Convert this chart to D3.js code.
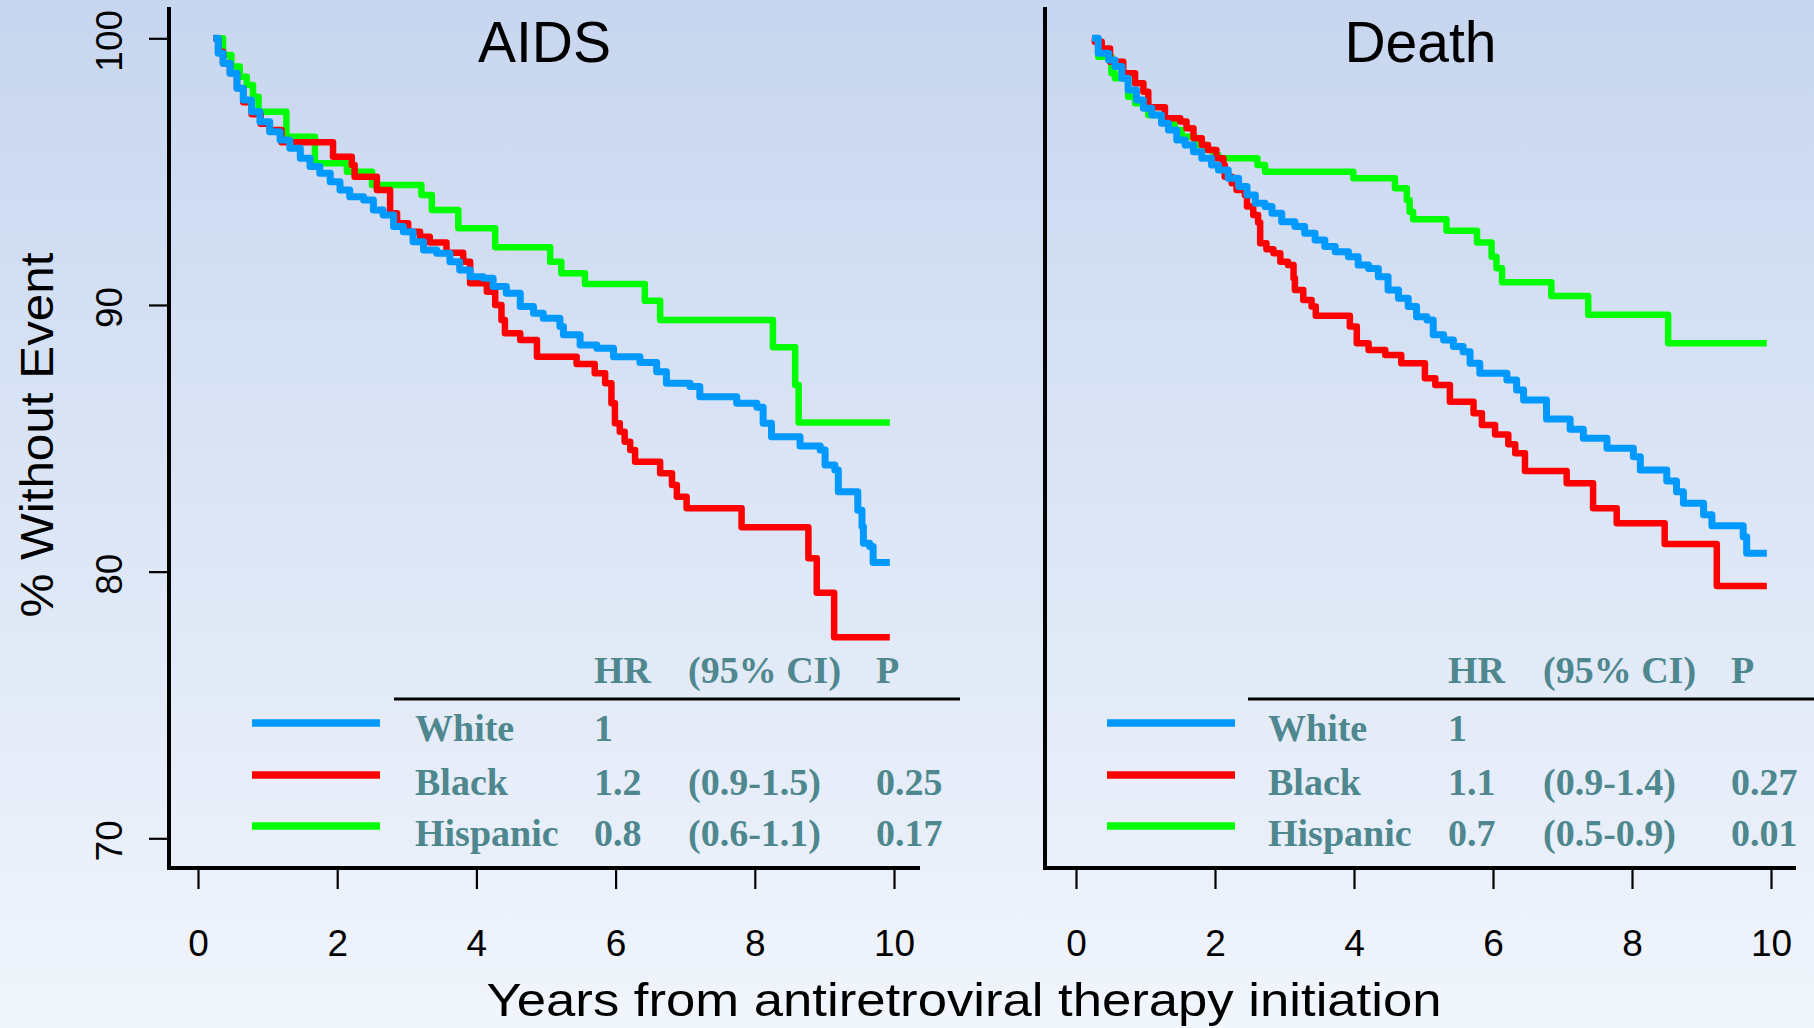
<!DOCTYPE html>
<html>
<head>
<meta charset="utf-8">
<script src="https://cdn.jsdelivr.net/npm/d3@7"></script>
<style>
  html, body { margin: 0; padding: 0; background: #ffffff; }
  svg { display: block; }
  .tick text { font-family: "Liberation Sans", Arial, sans-serif; fill: #000; }
  .leg { font-family: "Liberation Serif", "Times New Roman", serif; font-weight: bold; fill: #4e878e; }
</style>
</head>
<body>
<div id="chart"></div>
<script>
// axis ticks
const years = [0, 2, 4, 6, 8, 10];
const pctTicks = [70, 80, 90, 100];
const groups = ["White", "Black", "Hispanic"];

// Kaplan-Meier steps: [years, % without event]
const aidsWhite = [[0.22,100],[0.29,99.44],[0.36,99.06],[0.46,98.69],[0.56,98.13],[0.65,97.69],[0.77,97.25],[0.89,96.87],[1.03,96.5],[1.18,96.19],[1.32,95.88],[1.47,95.5],[1.61,95.19],[1.75,94.94],[1.9,94.62],[2.04,94.31],[2.18,94.06],[2.38,93.94],[2.52,93.56],[2.66,93.37],[2.81,92.94],[2.95,92.75],[3.09,92.37],[3.24,92.06],[3.43,91.94],[3.62,91.62],[3.76,91.31],[3.91,91.06],[4.1,91.0],[4.24,90.69],[4.43,90.44],[4.63,89.94],[4.82,89.69],[4.96,89.5],[5.2,89.19],[5.25,88.88],[5.49,88.5],[5.73,88.38],[5.97,88.06],[6.35,87.84],[6.59,87.5],[6.73,87.06],[7.07,86.94],[7.21,86.56],[7.74,86.31],[8.03,86.16],[8.12,85.56],[8.24,85.06],[8.65,84.71],[8.94,84.56],[9.01,84.0],[9.15,83.81],[9.2,83.0],[9.48,82.3],[9.54,81.69],[9.56,81.06],[9.65,80.94],[9.7,80.34],[9.94,80.34]];
const aidsBlack = [[0.22,100],[0.29,99.5],[0.36,99.06],[0.46,98.69],[0.56,98.13],[0.65,97.6],[0.77,97.15],[0.9,96.8],[1.03,96.56],[1.2,96.1],[1.94,95.56],[2.21,95.25],[2.25,94.81],[2.57,94.31],[2.76,93.44],[2.86,93.06],[3.02,92.75],[3.19,92.56],[3.33,92.34],[3.57,91.96],[3.81,91.62],[3.91,90.81],[4.15,90.5],[4.27,90.0],[4.36,89.44],[4.41,88.94],[4.63,88.69],[4.87,88.06],[5.44,87.79],[5.7,87.44],[5.85,87.06],[5.94,86.31],[5.99,85.56],[6.06,85.25],[6.13,84.87],[6.21,84.56],[6.28,84.12],[6.64,83.69],[6.81,83.25],[6.88,82.81],[7.02,82.38],[7.81,81.66],[8.77,80.5],[8.89,79.21],[9.14,77.54],[9.94,77.54]];
const aidsHispanic = [[0.26,100],[0.36,99.37],[0.48,98.94],[0.6,98.56],[0.7,98.25],[0.79,97.81],[0.87,97.25],[1.27,96.31],[1.68,95.31],[2.14,95.0],[2.5,94.5],[3.21,94.12],[3.36,93.56],[3.74,92.88],[4.27,92.16],[5.06,91.62],[5.22,91.19],[5.56,90.79],[6.42,90.16],[6.64,89.44],[8.26,88.41],[8.58,87.0],[8.63,85.59],[9.94,85.59]];

const deathWhite = [[0.23,100],[0.32,99.44],[0.47,99.19],[0.56,98.94],[0.66,98.5],[0.75,98.06],[0.87,97.69],[0.97,97.38],[1.09,97.12],[1.23,96.81],[1.33,96.56],[1.45,96.19],[1.57,96.0],[1.69,95.75],[1.81,95.5],[1.95,95.25],[2.05,95.06],[2.19,94.75],[2.34,94.44],[2.46,94.12],[2.58,93.81],[2.72,93.69],[2.82,93.44],[2.96,93.12],[3.15,92.94],[3.29,92.69],[3.44,92.44],[3.58,92.19],[3.73,92.0],[3.92,91.81],[4.06,91.5],[4.21,91.37],[4.35,91.06],[4.49,90.56],[4.64,90.25],[4.78,89.94],[4.9,89.56],[5.05,89.44],[5.14,88.88],[5.29,88.69],[5.43,88.44],[5.57,88.25],[5.67,87.81],[5.81,87.44],[6.2,87.19],[6.34,86.81],[6.44,86.44],[6.77,85.72],[7.11,85.34],[7.3,85.0],[7.64,84.63],[8.02,84.31],[8.12,83.81],[8.5,83.4],[8.64,83.0],[8.74,82.56],[9.03,82.13],[9.15,81.72],[9.6,81.31],[9.65,80.69],[9.94,80.69]];
const deathBlack = [[0.23,100],[0.27,99.87],[0.37,99.62],[0.49,99.12],[0.68,98.69],[0.85,98.31],[0.97,98.0],[1.04,97.41],[1.28,97.0],[1.5,96.88],[1.59,96.63],[1.69,96.25],[1.81,96.0],[1.9,95.81],[2.02,95.5],[2.12,95.25],[2.14,94.81],[2.24,94.56],[2.31,94.31],[2.43,94.12],[2.46,93.69],[2.55,93.37],[2.62,93.09],[2.65,92.31],[2.74,92.09],[2.84,91.94],[2.94,91.62],[3.05,91.5],[3.13,91.0],[3.15,90.56],[3.27,90.19],[3.39,89.94],[3.45,89.6],[3.94,89.19],[4.04,88.56],[4.21,88.31],[4.45,88.12],[4.68,87.81],[5.02,87.25],[5.17,87.0],[5.38,86.37],[5.72,85.94],[5.84,85.5],[6.03,85.14],[6.22,84.78],[6.32,84.44],[6.46,83.77],[7.06,83.31],[7.44,82.38],[7.78,81.81],[8.47,81.04],[9.22,79.46],[9.94,79.46]];
const deathHispanic = [[0.23,100],[0.32,99.31],[0.51,98.69],[0.56,98.5],[0.75,97.81],[0.85,97.56],[1.04,97.12],[1.23,96.87],[1.42,96.56],[1.52,96.31],[1.71,96.0],[1.88,95.81],[1.98,95.62],[2.05,95.5],[2.61,95.25],[2.72,95.0],[3.99,94.75],[4.59,94.38],[4.76,93.94],[4.8,93.5],[4.85,93.21],[5.33,92.78],[5.77,92.34],[5.98,91.81],[6.05,91.38],[6.13,90.85],[6.84,90.34],[7.37,89.63],[8.52,88.56],[9.94,88.56]];

// hazard ratio table
const aidsHR = ["1", "1.2", "0.8"];
const aidsCI = ["", "(0.9-1.5)", "(0.6-1.1)"];
const aidsP = ["", "0.25", "0.17"];
const deathHR = ["1", "1.1", "0.7"];
const deathCI = ["", "(0.9-1.4)", "(0.5-0.9)"];
const deathP = ["", "0.27", "0.01"];

const colors = { White: "#0099ff", Black: "#ff0000", Hispanic: "#00ff00" };

const W = 1814, H = 1028;
const svg = d3.select("#chart").append("svg")
  .attr("width", W).attr("height", H);

// background gradient
const grad = svg.append("defs").append("linearGradient")
  .attr("id", "bg").attr("x1", 0).attr("y1", 0).attr("x2", 0).attr("y2", 1);
grad.append("stop").attr("offset", "0%").attr("stop-color", "#c7d6ef");
grad.append("stop").attr("offset", "100%").attr("stop-color", "#f1f5fc");
svg.append("rect").attr("width", W).attr("height", H).attr("fill", "url(#bg)");

const y = d3.scaleLinear().domain([70, 100]).range([838.3, 38.3]);

const panels = [
  { title: "AIDS", axisX: 169, axisEnd: 920, x0: 198, x10: 894, showY: true,
    series: [aidsWhite, aidsBlack, aidsHispanic], hr: aidsHR, ci: aidsCI, p: aidsP,
    leg: { l1: 252, l2: 380, name: 415, hr: 594, ci: 688, p: 876, rule0: 394, rule1: 960 } },
  { title: "Death", axisX: 1045, axisEnd: 1796, x0: 1076, x10: 1771, showY: false,
    series: [deathWhite, deathBlack, deathHispanic], hr: deathHR, ci: deathCI, p: deathP,
    leg: { l1: 1107, l2: 1235, name: 1268, hr: 1448, ci: 1543, p: 1731, rule0: 1248, rule1: 1814 } }
];

const axisY = 868;

panels.forEach(pn => {
  const x = d3.scaleLinear().domain([0, 10]).range([pn.x0, pn.x10]);
  const g = svg.append("g");

  // x axis ticks
  const xa = g.append("g").attr("transform", `translate(0,${axisY})`)
    .call(d3.axisBottom(x).tickValues(years).tickSize(21).tickFormat(d3.format("d")));
  xa.select(".domain").remove();
  xa.selectAll(".tick line").attr("stroke", "#000").attr("stroke-width", 2.2);
  xa.selectAll(".tick text").attr("y", 88).attr("dy", 0).style("font-size", "37px");

  // y axis ticks (left panel only)
  if (pn.showY) {
    const ya = g.append("g").attr("transform", `translate(${pn.axisX},0)`)
      .call(d3.axisLeft(y).tickValues(pctTicks).tickSize(20));
    ya.select(".domain").remove();
    ya.selectAll(".tick line").attr("stroke", "#000").attr("stroke-width", 2.2);
    ya.selectAll(".tick text")
      .attr("transform", "rotate(-90)")
      .attr("x", -2).attr("y", -47).attr("dy", 0)
      .attr("text-anchor", "middle")
      .style("font-size", "37px");
  }

  // L-shaped frame
  g.append("path")
    .attr("d", `M${pn.axisX},7V${axisY}H${pn.axisEnd}`)
    .attr("fill", "none").attr("stroke", "#000").attr("stroke-width", 4);

  // title
  g.append("text")
    .attr("x", (pn.axisX + pn.axisEnd) / 2).attr("y", 62)
    .attr("text-anchor", "middle")
    .style("font-family", "'Liberation Sans', Arial, sans-serif")
    .style("font-size", "57px")
    .text(pn.title);

  // curves: hispanic, black, then white on top
  const line = d3.line().x(d => x(d[0])).y(d => y(d[1])).curve(d3.curveStepAfter);
  [2, 1, 0].forEach(i => {
    g.append("path")
      .datum(pn.series[i])
      .attr("d", line)
      .attr("fill", "none")
      .attr("stroke", colors[groups[i]])
      .attr("stroke-width", i === 0 ? 7 : 6.5)
      .attr("stroke-linejoin", "round");
  });

  // legend table
  const L = pn.leg;
  const rowBase = [741, 795, 846];
  const lineY = [723, 775, 826];
  g.append("line")
    .attr("x1", L.rule0).attr("x2", L.rule1).attr("y1", 699).attr("y2", 699)
    .attr("stroke", "#000").attr("stroke-width", 3);
  const head = [["HR", L.hr], ["(95% CI)", L.ci], ["P", L.p]];
  head.forEach(h => {
    g.append("text").attr("class", "leg").attr("x", h[1]).attr("y", 683)
      .style("font-size", "38px").text(h[0]);
  });
  groups.forEach((grp, i) => {
    g.append("line")
      .attr("x1", L.l1).attr("x2", L.l2).attr("y1", lineY[i]).attr("y2", lineY[i])
      .attr("stroke", colors[grp]).attr("stroke-width", 7.5);
    const cells = [[grp, L.name], [pn.hr[i], L.hr], [pn.ci[i], L.ci], [pn.p[i], L.p]];
    cells.forEach(c => {
      g.append("text").attr("class", "leg").attr("x", c[1]).attr("y", rowBase[i])
        .style("font-size", "38px").text(c[0]);
    });
  });
});

// shared axis titles
svg.append("text")
  .attr("transform", "translate(53,435) rotate(-90)")
  .attr("text-anchor", "middle")
  .attr("textLength", 365).attr("lengthAdjust", "spacingAndGlyphs")
  .style("font-family", "'Liberation Sans', Arial, sans-serif")
  .style("font-size", "46px")
  .text("% Without Event");

svg.append("text")
  .attr("x", 964).attr("y", 1016)
  .attr("text-anchor", "middle")
  .attr("textLength", 955).attr("lengthAdjust", "spacingAndGlyphs")
  .style("font-family", "'Liberation Sans', Arial, sans-serif")
  .style("font-size", "47px")
  .text("Years from antiretroviral therapy initiation");
</script>
</body>
</html>
